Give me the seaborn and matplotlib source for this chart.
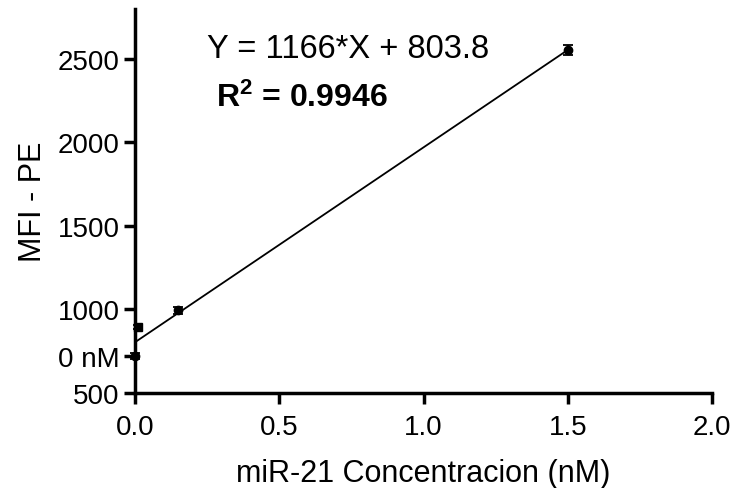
import numpy as np
import pandas as pd
import matplotlib
matplotlib.use("Agg")
import matplotlib.pyplot as plt
import seaborn as sns

conc = [0.0, 0.01, 0.15, 1.5]
mfi = [722, 895, 995, 2555]
err = [18, 12, 22, 30]
markers = ["o", "s", "o", "o"]
slope, intercept = 1166, 803.8
yticks = [500, 722, 1000, 1500, 2000, 2500]
ytick_labels = ["500", "0 nM", "1000", "1500", "2000", "2500"]
xticks = [0.0, 0.5, 1.0, 1.5, 2.0]

sns.set_style("ticks")
plt.rcParams["font.family"] = ["Liberation Sans", "DejaVu Sans"]
plt.rcParams["mathtext.default"] = "regular"
plt.rcParams["text.color"] = "black"
plt.rcParams["axes.labelcolor"] = "black"

fig = plt.figure(figsize=(7.35, 4.89), dpi=100)
ax = fig.add_axes([0.1837, 0.1943, 0.785, 0.786])

fitx = np.array([0.0, 1.5])
fit = pd.DataFrame({"x": fitx, "y": slope * fitx + intercept})
sns.lineplot(data=fit, x="x", y="y", color="black", lw=1.3, ax=ax)

for x, y, e, m in zip(conc, mfi, err, markers):
    ax.errorbar(x, y, yerr=e, fmt=m, color="black", ms=6, capsize=3.5,
                elinewidth=1.3, capthick=1.3, clip_on=False, zorder=5)

ax.set_xlim(0, 2.0)
ax.set_ylim(500, 2800)
ax.set_xticks(xticks)
ax.set_xticklabels([f"{v:.1f}" for v in xticks])
ax.set_yticks(yticks)
ax.set_yticklabels(ytick_labels)
ax.tick_params(labelsize=20, width=2.5, length=8, pad=3, color="black", labelcolor="black")
ax.tick_params(axis="x", pad=7)
for s in ["left", "bottom"]:
    ax.spines[s].set_linewidth(2.5)
    ax.spines[s].set_color("black")
sns.despine(ax=ax)

ax.set_xlabel("miR-21 Concentracion (nM)", fontsize=22, labelpad=13)
ax.set_ylabel("MFI - PE", fontsize=22, labelpad=7)

ax.text(0.25, 2510, "Y = 1166*X + 803.8", fontsize=23.5, ha="left", va="baseline")
ax.text(0.28, 2218, "R$^2$ = 0.9946", fontsize=23, ha="left", va="baseline",
        fontweight="bold")

fig.savefig("out.png", dpi=100)
